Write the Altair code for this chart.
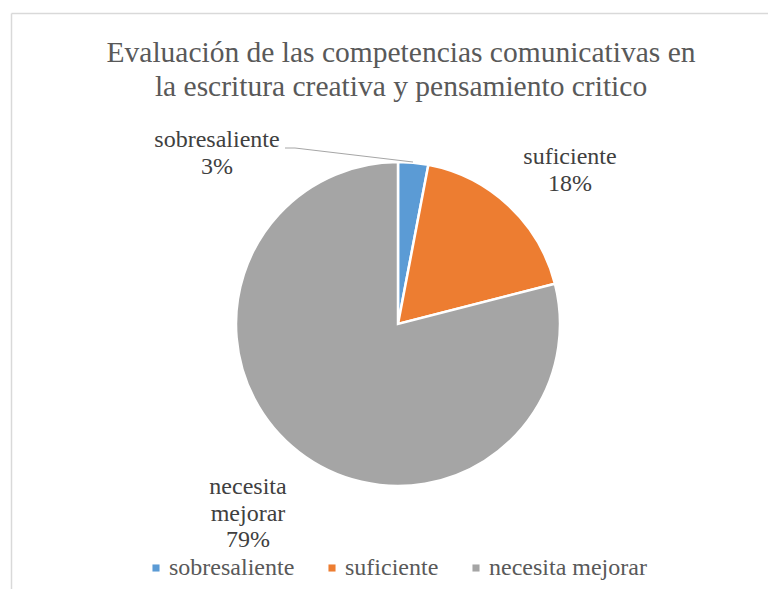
import altair as alt
import pandas as pd

categorias = ["sobresaliente", "suficiente", "necesita mejorar"]
porcentajes = [3, 18, 79]
colores = ["#5B9BD5", "#ED7D31", "#A5A5A5"]
titulo = ["Evaluación de las competencias comunicativas en",
          "la escritura creativa y pensamiento critico"]

df = pd.DataFrame({"categoria": categorias, "porcentaje": porcentajes,
                   "orden": list(range(len(categorias)))})
df["etiqueta"] = [c.replace(" ", "\n") + f"\n{p}%" for c, p in zip(categorias, porcentajes)]

W, H = 760, 581
CX, CY, R = 390, 316, 162
FONT = "Liberation Serif"

base = alt.Chart(df)
one = alt.Chart(pd.DataFrame({"k": [0]}))

pie = base.mark_arc(outerRadius=R, stroke="white", strokeWidth=2.5).encode(
    theta=alt.Theta("porcentaje:Q", stack=True),
    order=alt.Order("orden:Q"),
    color=alt.Color(
        "categoria:N", sort=categorias,
        scale=alt.Scale(domain=categorias, range=colores),
        legend=alt.Legend(
            orient="none", legendX=136, legendY=548, direction="horizontal",
            columns=3, title=None, symbolType="square", symbolSize=50,
            symbolStrokeWidth=0, labelFont=FONT, labelFontSize=24,
            labelColor="#595959", labelOffset=1, columnPadding=25,
        ),
    ),
    x=alt.value(CX), y=alt.value(CY),
)

posiciones = {"sobresaliente": (209, 139), "suficiente": (562, 156),
              "necesita mejorar": (240, 486)}
etiquetas = []
for c in categorias:
    px, py = posiciones[c]
    etiquetas.append(
        base.transform_filter(alt.datum.categoria == c).mark_text(
            font=FONT, fontSize=24, color="#404040", lineBreak="\n",
            lineHeight=26.5, align="center", baseline="alphabetic",
        ).encode(text="etiqueta:N", x=alt.value(px), y=alt.value(py))
    )

guia1 = one.mark_rule(color="#A6A6A6", strokeWidth=1).encode(
    x=alt.value(277), x2=alt.value(287), y=alt.value(140), y2=alt.value(140))
guia2 = one.mark_rule(color="#A6A6A6", strokeWidth=1).encode(
    x=alt.value(287), x2=alt.value(405), y=alt.value(140), y2=alt.value(154))

tit = one.mark_text(text=titulo, font=FONT, fontSize=29.5, color="#595959",
                    lineHeight=34, align="center", baseline="alphabetic").encode(
    x=alt.value(393), y=alt.value(54))

borde_sup = one.mark_rule(color="#D9D9D9", strokeWidth=1.5).encode(
    x=alt.value(3.5), x2=alt.value(W), y=alt.value(5.5), y2=alt.value(5.5))
borde_izq = one.mark_rule(color="#D9D9D9", strokeWidth=1.5).encode(
    x=alt.value(3.5), x2=alt.value(3.5), y=alt.value(5.5), y2=alt.value(H))

chart = alt.layer(borde_sup, borde_izq, pie, guia1, guia2, tit, *etiquetas).properties(
    width=W, height=H, padding=0, autosize=alt.AutoSizeParams(type="none"),
    background="white",
).configure_view(strokeWidth=0)

chart.save("out.html", embed_options={"renderer": "svg", "actions": False})
